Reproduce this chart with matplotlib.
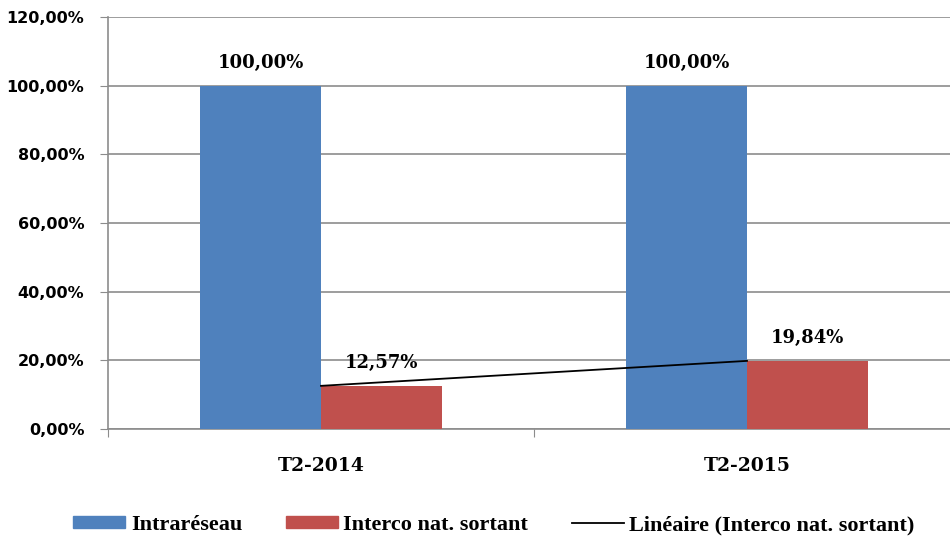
import numpy as np
import matplotlib.pyplot as plt
from matplotlib.patches import Patch
from matplotlib.lines import Line2D
from matplotlib.ticker import FuncFormatter

categories = ["T2-2014", "T2-2015"]
intrareseau = [100.0, 100.0]
interco = [12.57, 19.84]
yticks = [0, 20, 40, 60, 80, 100, 120]

BLUE = "#4F81BD"
RED = "#C0504D"
GRID = "#8C8C8C"

fig = plt.figure(figsize=(9.5, 5.43), dpi=100)
ax = fig.add_axes([108/950, 1 - 429/543, 1 - 108/950, (429 - 17)/543])

x = np.arange(len(categories))
w = 0.284
ax.bar(x - w/2, intrareseau, w, color=BLUE, zorder=3)
ax.bar(x + w/2, interco, w, color=RED, zorder=3)

# tendance linéaire de la série rouge
coef = np.polyfit(x, interco, 1)
ax.plot(x, np.polyval(coef, x), color="black", lw=1.3, zorder=4)

lab_font = dict(family="DejaVu Serif", weight="bold", fontsize=13)
for i in range(len(categories)):
    ax.text(x[i] - w/2, intrareseau[i] + 4, f"{intrareseau[i]:.2f}%".replace(".", ","),
            ha="center", va="bottom", **lab_font)
    ax.text(x[i] + w/2, interco[i] + 4, f"{interco[i]:.2f}%".replace(".", ","),
            ha="center", va="bottom", **lab_font)

ax.set_yticks(yticks)
ax.yaxis.set_major_formatter(FuncFormatter(lambda v, p: f"{v:.2f}%".replace(".", ",")))
ax.set_xticks([-0.5, 0.5, 1.5])
ax.set_xticklabels([])
ax.set_xticks(x, minor=True)
ax.set_xticklabels(categories, minor=True, family="DejaVu Serif", weight="bold", fontsize=13.5)
ax.set_ylim(0, 120)
ax.set_xlim(-0.5, (950 - 321) / 426)
ax.tick_params(axis="x", which="minor", length=0, pad=20)
ax.tick_params(axis="x", which="major", length=6, color=GRID, direction="out")
ax.tick_params(axis="y", length=6, color=GRID, pad=11)
for t in ax.get_yticklabels():
    t.set_family("DejaVu Sans")
    t.set_weight("bold")
    t.set_fontsize(11.5)

ax.grid(axis="y", color=GRID, lw=1.2, zorder=0)
for s in ["top", "right"]:
    ax.spines[s].set_visible(False)
ax.spines["left"].set_color(GRID)
ax.spines["bottom"].set_color(GRID)
ax.spines["left"].set_linewidth(1.2)
ax.spines["bottom"].set_linewidth(1.2)

handles = [Patch(color=BLUE), Patch(color=RED), Line2D([0], [0], color="black", lw=1.3)]
labels = ["Intraréseau", "Interco nat. sortant", "Linéaire (Interco nat. sortant)"]
fig.legend(handles, labels, loc="center", bbox_to_anchor=(494/950, 18/543), ncol=3,
           frameon=False, prop=dict(family="Liberation Serif", weight="bold", size=16),
           handlelength=2.35, handleheight=0.45, handletextpad=0.25, columnspacing=1.95,
           borderpad=0, borderaxespad=0)

fig.savefig("out.png", dpi=100)
